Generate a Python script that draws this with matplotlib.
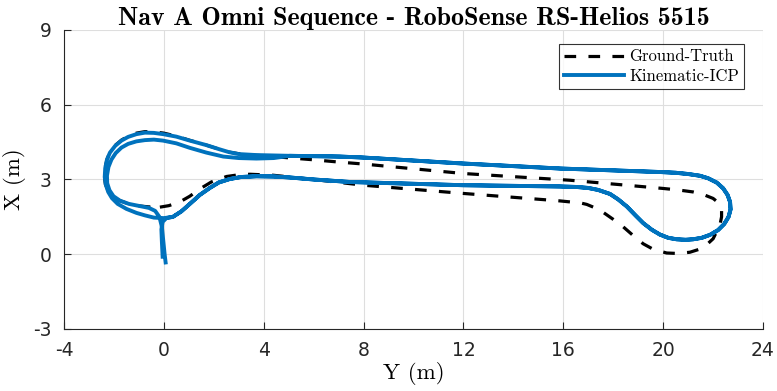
import numpy as np
import matplotlib
matplotlib.use("Agg")
import matplotlib.pyplot as plt

plt.rcParams['axes.unicode_minus'] = False

gt_y = [-0.16, 0.2, 0.64, 1.04, 1.44, 1.9, 2.51, 3.0, 3.45, 4.38, 6.0, 8.0, 12.0, 15.87,
        16.27, 16.6, 16.94, 17.25, 17.6, 18.0, 18.4, 18.8, 19.2, 19.6, 20.14, 20.6, 21.07,
        21.45, 21.74, 22.0, 22.14, 22.28, 22.34, 22.34, 22.2, 22.0, 21.6, 21.2, 20.6, 20.0,
        16.27, 12.0, 8.0, 7.0, 6.0, 5.0, 4.0, 3.2, 2.6, 2.2, 1.7, 1.04, 0.5, 0.0, -0.4,
        -0.76, -1.1, -1.43, -1.7, -1.95, -2.16, -2.28, -2.36, -2.38, -2.34, -2.22, -2.04,
        -1.76, -1.4, -1.0, -0.6, -0.16]
gt_x = [1.89, 1.95, 2.1, 2.33, 2.62, 2.9, 3.12, 3.19, 3.21, 3.17, 3.0, 2.77, 2.44, 2.14,
        2.1, 2.08, 2.0, 1.87, 1.68, 1.4, 1.1, 0.75, 0.42, 0.2, 0.05, 0.03, 0.08,
        0.2, 0.38, 0.62, 0.9, 1.2, 1.5, 1.8, 2.08, 2.24, 2.4, 2.5, 2.58, 2.64,
        2.97, 3.24, 3.62, 3.7, 3.79, 3.87, 3.95, 4.0, 4.1, 4.22, 4.38, 4.57, 4.74, 4.86, 4.91,
        4.92, 4.86, 4.74, 4.58, 4.37, 4.1, 3.8, 3.45, 3.1, 2.8, 2.52, 2.3,
        2.15, 2.02, 1.94, 1.9, 1.89]

# Kinematic-ICP pieces: start, eastward lap (driven twice), outer left loop, inner left loop to the end
icp_start_y = [-0.05, -0.08, -0.1, -0.05, 0.1]
icp_start_x = [-0.1, 0.5, 1.0, 1.3, 1.45]

icp_east_y = [0.36, 0.7, 1.04, 1.44, 1.84, 2.2, 2.64, 3.1, 3.71, 4.4, 5.05, 6.0, 7.45, 12.0,
              15.87, 16.53, 17.0, 17.4, 17.87, 18.2, 18.54, 18.9, 19.2, 19.55, 19.87, 20.2,
              20.54, 20.9, 21.2, 21.55, 21.88, 22.2, 22.45, 22.62, 22.7, 22.68, 22.58, 22.4,
              22.14, 21.8, 21.47, 21.0, 20.5, 19.87, 15.87, 12.0, 8.0, 7.05, 5.05]
icp_east_x = [1.5, 1.72, 2.02, 2.38, 2.66, 2.88, 3.02, 3.1, 3.13, 3.12, 3.08, 3.0, 2.9, 2.77,
              2.72, 2.7, 2.66, 2.58, 2.42, 2.2, 1.92, 1.55, 1.25, 0.98, 0.79, 0.66,
              0.6, 0.58, 0.6, 0.66, 0.78, 0.97, 1.22, 1.5, 1.8, 2.1, 2.38, 2.65,
              2.88, 3.05, 3.15, 3.22, 3.27, 3.3, 3.44, 3.64, 3.88, 3.92, 3.95]

icp_outer_y = [3.71, 3.0, 2.6, 2.2, 1.7, 1.04, 0.5, -0.03, -0.4, -0.76, -1.1, -1.43, -1.7,
               -1.95, -2.16, -2.28, -2.35, -2.37, -2.33, -2.23, -2.08, -1.85, -1.5, -1.1,
               -0.76, -0.4, 0.0]
icp_outer_x = [3.98, 4.02, 4.1, 4.22, 4.38, 4.56, 4.72, 4.82, 4.87, 4.88, 4.82, 4.71, 4.56,
               4.35, 4.08, 3.8, 3.45, 3.1, 2.8, 2.5, 2.25, 2.02, 1.82, 1.66,
               1.56, 1.47, 1.45]

icp_inner_y = [4.4, 3.71, 3.0, 2.38, 1.7, 1.04, 0.5, -0.03, -0.4, -0.76, -1.1, -1.43, -1.7,
               -1.93, -2.1, -2.22, -2.28, -2.27, -2.18, -2.02, -1.76, -1.4, -1.0, -0.6,
               -0.35, -0.18, -0.08, -0.02, 0.03, 0.07]
icp_inner_x = [3.86, 3.84, 3.86, 3.92, 4.08, 4.27, 4.45, 4.56, 4.6, 4.58, 4.53, 4.43, 4.28,
               4.06, 3.8, 3.5, 3.15, 2.85, 2.57, 2.33, 2.15, 2.02, 1.94, 1.86,
               1.74, 1.5, 1.1, 0.5, 0.0, -0.33]

icp_y = icp_start_y + icp_east_y + icp_outer_y + icp_east_y + icp_inner_y
icp_x = icp_start_x + icp_east_x + icp_outer_x + icp_east_x + icp_inner_x

fig = plt.figure(figsize=(7.77, 3.91), dpi=100)
ax = fig.add_axes([0.0824, 0.1586, 0.8996, 0.7647])

ax.plot(gt_y, gt_x, '--', color='black', linewidth=2.3, dashes=(3.65, 3.85),
        solid_joinstyle='round', label='Ground-Truth')
ax.plot(icp_y, icp_x, '-', color='#0072BD', linewidth=2.8, solid_joinstyle='round',
        label='Kinematic-ICP')

ax.set_xlim(-4, 24)
ax.set_ylim(-3, 9)
ax.set_xticks(np.arange(-4, 25, 4))
ax.set_yticks(np.arange(-3, 10, 3))
ax.grid(True, color='#dedede', linewidth=0.8)
ax.set_axisbelow(True)

for s in ['top', 'right']:
    ax.spines[s].set_visible(False)
for s in ['left', 'bottom']:
    ax.spines[s].set_color('#262626')
    ax.spines[s].set_linewidth(0.8)
ax.tick_params(direction='in', length=5, width=0.8, color='#262626',
               labelsize=13.5, labelcolor='#262626', pad=9)

ax.set_title('Nav A Omni Sequence - RoboSense RS-Helios 5515', family='cmb10',
             fontsize=18.7, pad=2.5)
ax.set_xlabel('Y (m)', family='cmr10', fontsize=16.5, labelpad=1)
ax.set_ylabel('X (m)', family='cmr10', fontsize=16.5, labelpad=5)

leg = ax.legend(loc='upper right', bbox_to_anchor=(0.973, 0.953), prop={'family': 'cmr10', 'size': 12},
                frameon=True, fancybox=False, edgecolor='black', handlelength=3.6,
                handletextpad=0.3, labelspacing=0.25, borderpad=0.3, borderaxespad=0)
leg.get_frame().set_linewidth(0.8)

fig.savefig('out.png', dpi=100)
